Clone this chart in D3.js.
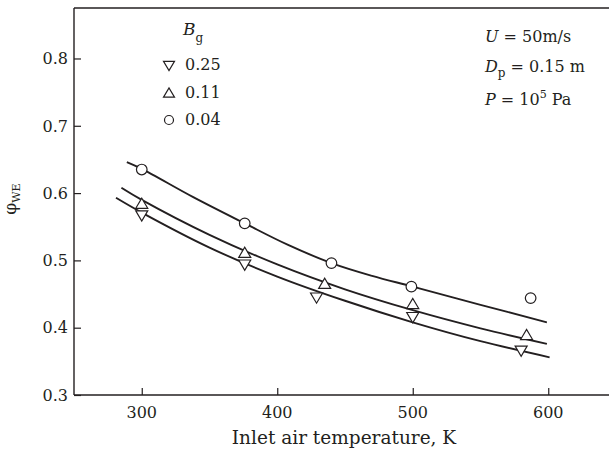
<!DOCTYPE html>
<html>
<head>
<meta charset="utf-8">
<script src="https://cdn.jsdelivr.net/npm/d3@7"></script>
<style>
  body { margin: 0; background: #fff; }
  svg { display: block; }
  text { font-family: "DejaVu Serif", serif; fill: #231f20; }
</style>
</head>
<body>
<svg id="chart" width="609" height="451"></svg>
<script>
// Tick values
const xTicks = [300, 400, 500, 600];
const yTicks = [0.3, 0.4, 0.5, 0.6, 0.7, 0.8];

// Legend labels (B_g)
const bgLabels = ['0.25', '0.11', '0.04'];

// Measured points, B_g = 0.25 (down triangles)
const tempDown = [300, 376, 429, 500, 580];
const phiDown = [0.566, 0.493, 0.444, 0.415, 0.365];
// B_g = 0.11 (up triangles)
const tempUp = [300, 376, 435, 500, 584];
const phiUp = [0.585, 0.512, 0.466, 0.436, 0.390];
// B_g = 0.04 (circles)
const tempCircle = [300, 376, 440, 499, 587];
const phiCircle = [0.635, 0.555, 0.496, 0.461, 0.444];

// Fitted curves
const fitTempDown = [281, 300, 350, 400, 450, 500, 550, 601];
const fitPhiDown = [0.593, 0.571, 0.519, 0.476, 0.440, 0.408, 0.380, 0.356];
const fitTempUp = [285, 300, 350, 400, 450, 500, 550, 599];
const fitPhiUp = [0.608, 0.590, 0.538, 0.494, 0.457, 0.426, 0.399, 0.376];
const fitTempCircle = [289, 300, 338, 376, 408, 440, 470, 500, 550, 599];
const fitPhiCircle = [0.646, 0.636, 0.594, 0.555, 0.523, 0.496, 0.477, 0.461, 0.434, 0.408];

const svg = d3.select('#chart');
const ink = '#231f20';

const margin = { left: 74, top: 8, bottom: 56 };
const plotRight = 616;
const plotBottom = 451 - margin.bottom;

const x = d3.scaleLinear().domain([250, 650]).range([margin.left, plotRight]);
const y = d3.scaleLinear().domain([0.3, 0.875]).range([plotBottom, margin.top]);

// Frame: left, bottom, top
const frame = svg.append('g').attr('stroke', ink).attr('stroke-width', 1.4).attr('fill', 'none');
frame.append('line').attr('x1', x(250)).attr('x2', x(250)).attr('y1', y(0.875)).attr('y2', y(0.3));
frame.append('line').attr('x1', x(250)).attr('x2', x(650)).attr('y1', y(0.3)).attr('y2', y(0.3));
frame.append('line').attr('x1', x(250)).attr('x2', x(650)).attr('y1', y(0.875)).attr('y2', y(0.875));

// Axes with inward ticks
const xAxis = d3.axisTop(x).tickValues(xTicks).tickSize(7).tickFormat('');
svg.append('g')
    .attr('transform', `translate(0, ${plotBottom})`)
    .call(xAxis)
    .call(g => g.select('.domain').remove())
    .call(g => g.selectAll('line').attr('stroke', ink).attr('stroke-width', 1.2));

const yAxis = d3.axisRight(y).tickValues(yTicks).tickSize(7).tickFormat('');
svg.append('g')
    .attr('transform', `translate(${margin.left}, 0)`)
    .call(yAxis)
    .call(g => g.select('.domain').remove())
    .call(g => g.selectAll('line').attr('stroke', ink).attr('stroke-width', 1.2));

// Tick labels
svg.append('g').selectAll('text')
    .data(xTicks)
    .enter()
    .append('text')
    .attr('x', d => x(d))
    .attr('y', 418)
    .attr('text-anchor', 'middle')
    .style('font-size', '16px')
    .text(d => d);

svg.append('g').selectAll('text')
    .data(yTicks)
    .enter()
    .append('text')
    .attr('x', 68)
    .attr('y', d => y(d))
    .attr('dy', '0.36em')
    .attr('text-anchor', 'end')
    .style('font-size', '16px')
    .text(d => d.toFixed(1));

// Axis titles
svg.append('text')
    .attr('x', 344)
    .attr('y', 444)
    .attr('text-anchor', 'middle')
    .style('font-size', '18.5px')
    .text('Inlet air temperature, K');

const yTitle = svg.append('text')
    .attr('transform', 'translate(16, 199) rotate(-90)')
    .attr('text-anchor', 'middle')
    .style('font-size', '17px');
yTitle.append('tspan').text('φ');
yTitle.append('tspan').attr('dy', 4).style('font-size', '11px').text('WE');

// Fitted curves
const line = d3.line()
    .x(d => x(d[0]))
    .y(d => y(d[1]))
    .curve(d3.curveCatmullRom.alpha(0.5));

const fits = [
    d3.zip(fitTempDown, fitPhiDown),
    d3.zip(fitTempUp, fitPhiUp),
    d3.zip(fitTempCircle, fitPhiCircle)
];
svg.append('g').selectAll('path')
    .data(fits)
    .enter()
    .append('path')
    .attr('d', line)
    .attr('fill', 'none')
    .attr('stroke', ink)
    .attr('stroke-width', 1.9);

// Marker shapes
function triDown(cx, cy, s) {
    const w = s, h = s * 0.85;
    return `M${cx - w / 2},${cy - h / 2}L${cx + w / 2},${cy - h / 2}L${cx},${cy + h / 2}Z`;
}
function triUp(cx, cy, s) {
    const w = s, h = s * 0.85;
    return `M${cx - w / 2},${cy + h / 2}L${cx + w / 2},${cy + h / 2}L${cx},${cy - h / 2}Z`;
}

const markers = svg.append('g')
    .attr('fill', '#fff')
    .attr('stroke', ink)
    .attr('stroke-width', 1.2);

markers.selectAll('.down')
    .data(d3.zip(tempDown, phiDown))
    .enter()
    .append('path')
    .attr('class', 'down')
    .attr('d', d => triDown(x(d[0]), y(d[1]), 12));

markers.selectAll('.up')
    .data(d3.zip(tempUp, phiUp))
    .enter()
    .append('path')
    .attr('class', 'up')
    .attr('d', d => triUp(x(d[0]), y(d[1]), 12));

markers.selectAll('circle')
    .data(d3.zip(tempCircle, phiCircle))
    .enter()
    .append('circle')
    .attr('cx', d => x(d[0]))
    .attr('cy', d => y(d[1]))
    .attr('r', 5.3);

// Legend
const legend = svg.append('g').attr('class', 'legend');
const bTitle = legend.append('text').attr('x', 183).attr('y', 35).style('font-size', '17px');
bTitle.append('tspan').style('font-style', 'italic').text('B');
bTitle.append('tspan').attr('dy', 7).style('font-size', '12px').text('g');

const legendRows = legend.selectAll('.legend-item')
    .data(bgLabels)
    .enter()
    .append('g')
    .attr('class', 'legend-item')
    .attr('transform', (d, i) => `translate(169, ${65 + i * 27.5})`);

legendRows.append('path')
    .attr('d', (d, i) => {
        if (i === 0) return triDown(0, 1, 11);
        if (i === 1) return triUp(0, 0, 11);
        return d3.symbol(d3.symbolCircle, Math.PI * 4.5 * 4.5)();
    })
    .attr('fill', '#fff')
    .attr('stroke', ink)
    .attr('stroke-width', 1.2);

legendRows.append('text')
    .attr('x', 16)
    .attr('y', 5)
    .style('font-size', '16px')
    .text(d => d);

// Conditions annotation
const notes = svg.append('g').style('font-size', '16px');
const n1 = notes.append('text').attr('x', 485).attr('y', 42);
n1.append('tspan').style('font-style', 'italic').text('U');
n1.append('tspan').text(' = 50m/s');

const n2 = notes.append('text').attr('x', 485).attr('y', 72);
n2.append('tspan').style('font-style', 'italic').text('D');
n2.append('tspan').attr('dy', 5).style('font-size', '12px').text('p');
n2.append('tspan').attr('dy', -5).text(' = 0.15 m');

const n3 = notes.append('text').attr('x', 485).attr('y', 105);
n3.append('tspan').style('font-style', 'italic').text('P');
n3.append('tspan').text(' = 10');
n3.append('tspan').attr('dy', -7).style('font-size', '11px').text('5');
n3.append('tspan').attr('dy', 7).text(' Pa');
</script>
</body>
</html>
